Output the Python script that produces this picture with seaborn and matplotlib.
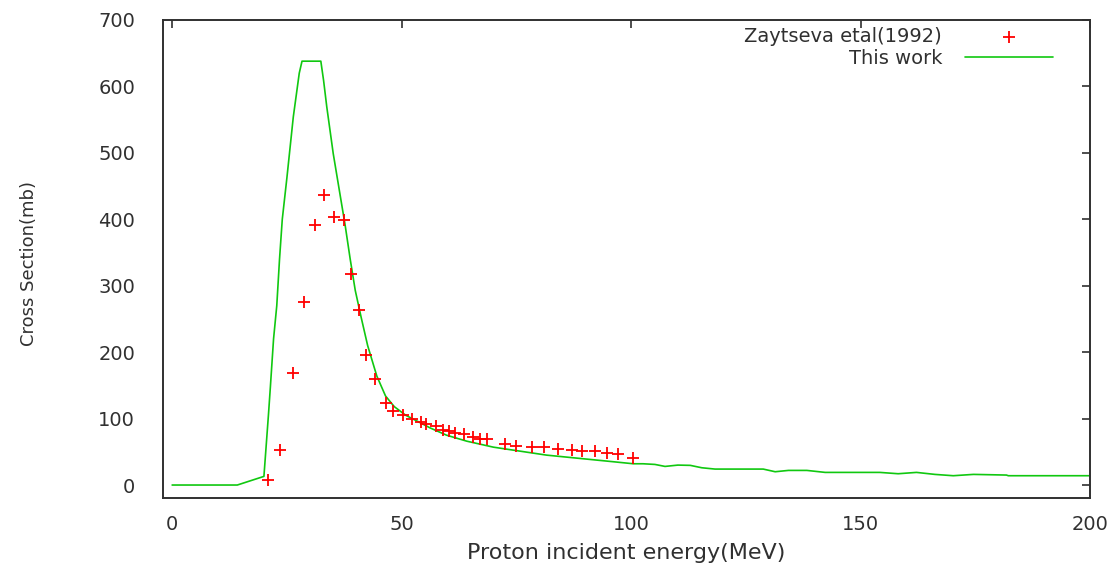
import matplotlib
matplotlib.use("Agg")
import pandas as pd
import matplotlib.pyplot as plt
import seaborn as sns

# Zaytseva et al (1992) measured points
exp_energy = [20.8, 23.6, 26.4, 28.8, 31.1, 33.0, 35.3, 37.4, 39.0, 40.8,
              42.3, 44.2, 46.5, 48.2, 50.3, 52.2, 54.3, 55.3, 57.5, 59.0,
              60.4, 61.7, 63.7, 65.6, 67.1, 68.6, 72.5, 74.9, 78.4, 81.0,
              84.0, 87.1, 89.3, 92.2, 94.7, 97.2, 100.4]
exp_xs = [8, 53, 169, 276, 392, 436, 404, 399, 317, 264,
          195, 160, 124, 112, 105, 99, 95, 92, 89, 83,
          81, 79, 77, 72, 69, 69, 62, 59, 57, 57,
          54, 53, 51, 51, 48, 46, 40]

# This work (calculated excitation function)
calc_energy = [0, 14.2, 20, 21.0, 21.4, 22.1, 22.8, 23.4, 24.0, 25.0,
               26.4, 27.7, 28.3, 32.4, 33.0, 33.7, 35.1, 36.4, 37.7, 38.8,
               39.9, 41.2, 42.6, 44.6, 46.5, 48.4, 50.9, 54.0, 56.2, 59.8,
               64.2, 70.0, 75.8, 81.6, 88.9, 96.2, 100.5, 102.6, 105.2, 107.4,
               110.2, 112.9, 115.4, 118.3, 128.8, 131.4, 134.3, 138.3, 142.3, 154.2,
               158.2, 162.2, 166.2, 170.2, 174.6, 181.8, 182.2, 200]
calc_xs = [0, 0, 13, 107, 147, 220, 270, 340, 400, 462,
           554, 620, 638, 638, 609, 569, 499, 445, 391, 340,
           293, 252, 210, 164, 134, 118, 105, 94, 86, 75,
           66, 57, 51, 45, 40, 35, 32, 32, 31, 28,
           30, 29.6, 26, 24, 24, 20, 22, 22, 19, 19,
           17, 19, 16, 14, 16, 15, 14, 14]

x_ticks = [0, 50, 100, 150, 200]
y_ticks = [0, 100, 200, 300, 400, 500, 600, 700]

exp_df = pd.DataFrame({"energy": exp_energy, "xs": exp_xs})
calc_df = pd.DataFrame({"energy": calc_energy, "xs": calc_xs})

sns.set_style("white")
plt.rcParams["font.family"] = ["DejaVu Sans"]

fig = plt.figure(figsize=(11.2, 5.63), dpi=100)
ax = fig.add_axes([0.1455, 0.1149, 0.8277, 0.8496])

sns.lineplot(data=calc_df, x="energy", y="xs", sort=False, estimator=None,
             color="#10c810", linewidth=1.2, label="This work", ax=ax)
sns.scatterplot(data=exp_df, x="energy", y="xs", marker="+", color="#ff0000",
                s=70, linewidth=1.3, label="Zaytseva etal(1992)", ax=ax, zorder=3)

ax.set_xlim(-2, 200)
ax.set_ylim(-20, 700)
ax.set_xticks(x_ticks)
ax.set_yticks(y_ticks)

for sp in ax.spines.values():
    sp.set_color("#303030")
    sp.set_linewidth(1.4)

ax.tick_params(axis="both", direction="in", length=6, width=1.2, color="#303030",
               labelsize=14, labelcolor="#303030", top=True, right=True)
ax.tick_params(axis="y", pad=20)
ax.tick_params(axis="x", pad=12)

ax.set_xlabel("Proton incident energy(MeV)", fontsize=16, color="#303030")
ax.set_ylabel("Cross Section(mb)", fontsize=13, color="#303030")
ax.xaxis.set_label_coords(0.5, -0.094)
ax.yaxis.set_label_coords(-0.135, 0.49)

handles, labels = ax.get_legend_handles_labels()
order = [labels.index("Zaytseva etal(1992)"), labels.index("This work")]
ax.legend([handles[i] for i in order], [labels[i] for i in order],
          loc="upper right", bbox_to_anchor=(0.96, 0.985), markerfirst=False,
          frameon=False, handlelength=4.5, handletextpad=1.2, borderaxespad=0,
          borderpad=0, labelspacing=0.15, fontsize=14, labelcolor="#303030")

plt.savefig("out.png", dpi=100)
plt.close()
